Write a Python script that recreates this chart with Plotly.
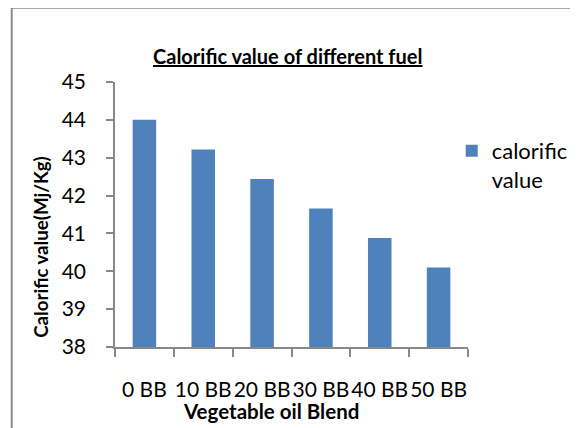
import plotly.graph_objects as go

categories = ["0 BB", "10 BB", "20 BB", "30 BB", "40 BB", "50 BB"]
calorific = [44.0, 43.22, 42.44, 41.66, 40.88, 40.1]
series_name = "calorific<br>value"

# page has an 8px body margin, so lay out in page coords minus 8
OFF = 8
W, H = 570, 420
left, right, top, bottom = 114.5, 468.3, 82.2, 346.7  # plot area in page pixels
ml, mr, mt, mb = left - OFF, W - (right - OFF), top - OFF, H - (bottom - OFF)
pw, ph = W - ml - mr, H - mt - mb

def px(x):
    return (x - OFF - ml) / pw

def py(y):
    return (H - mb - (y - OFF)) / ph

FONT = "Lato"

fig = go.Figure()
fig.add_trace(go.Bar(x=categories, y=calorific, name=series_name,
                     marker=dict(color="#4F81BD", line=dict(width=0))))

fig.update_layout(
    width=W, height=H,
    margin=dict(l=ml, r=mr, t=mt, b=mb, autoexpand=False),
    paper_bgcolor="white", plot_bgcolor="white",
    bargap=0.6,
    font=dict(family=FONT, color="#000000"),
    showlegend=True,
    legend=dict(x=px(452), y=py(130), xanchor="left", yanchor="top",
                font=dict(size=22, family=FONT), valign="top",
                bgcolor="rgba(0,0,0,0)"),
    xaxis=dict(showline=True, linecolor="#888888", linewidth=1.5,
               ticks="outside", tickson="boundaries", ticklen=8, tickcolor="#888888",
               tickwidth=1.5, tickangle=0, automargin=False,
               tickfont=dict(size=21, family=FONT), ticklabelstandoff=23,
               showgrid=False, zeroline=False),
    yaxis=dict(range=[38, 45], dtick=1, showline=True, linecolor="#888888", linewidth=1.5,
               ticks="outside", ticklen=7, tickcolor="#888888", tickwidth=1.5,
               automargin=False,
               tickfont=dict(size=21, family=FONT), ticklabelstandoff=16,
               showgrid=False, zeroline=False),
    annotations=[
        dict(text="<b><u>Calorific value of different fuel</u></b>", xref="paper", yref="paper",
             x=px(287), y=py(56), xanchor="center", yanchor="middle", showarrow=False,
             font=dict(size=20, family=FONT)),
        dict(text="<b>Calorific value(Mj/Kg)</b>", xref="paper", yref="paper",
             x=px(40), y=py(247), xanchor="center", yanchor="middle", showarrow=False,
             textangle=-90, font=dict(size=18.7, family=FONT)),
        dict(text="<b>Vegetable oil Blend</b>", xref="paper", yref="paper",
             x=px(271), y=py(411), xanchor="center", yanchor="middle", showarrow=False,
             font=dict(size=20.5, family=FONT)),
    ],
    shapes=[
        dict(type="rect", xref="paper", yref="paper",
             x0=px(11), x1=px(600), y0=py(440), y1=py(8),
             line=dict(color="#8c8c8c", width=2), layer="below"),
    ],
)

fig.write_html("out.html")
